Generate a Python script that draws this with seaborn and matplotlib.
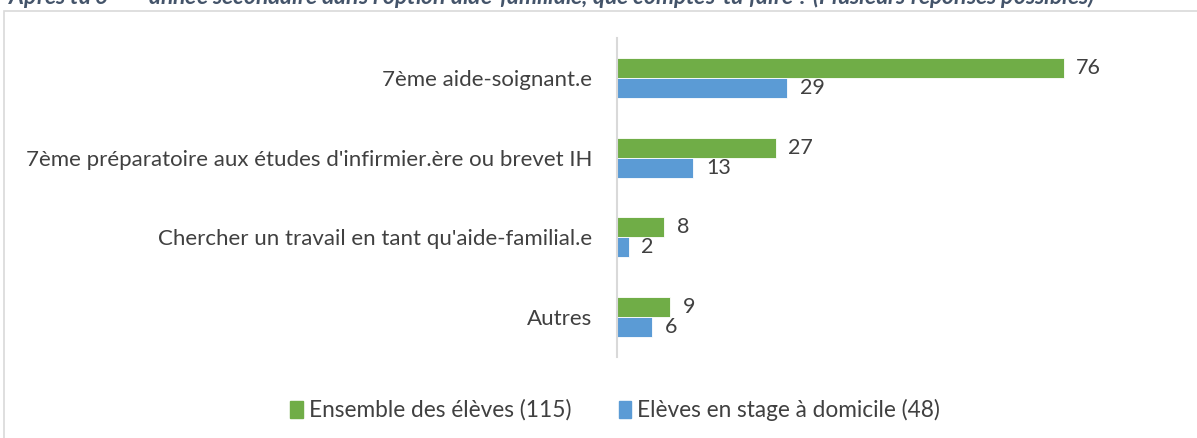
import pandas as pd
import matplotlib.pyplot as plt
import seaborn as sns
from matplotlib.patches import Rectangle

# Données
categories = [
    "7ème aide-soignant.e",
    "7ème préparatoire aux études d'infirmier.ère ou brevet IH",
    "Chercher un travail en tant qu'aide-familial.e",
    "Autres",
]
groupes = ["Ensemble des élèves (115)", "Elèves en stage à domicile (48)"]
ensemble = [76, 27, 8, 9]
stage = [29, 13, 2, 6]
couleurs = ["#70AD47", "#5B9BD5"]

titre = ("Après ta 6$^{ème}$ année secondaire dans l'option aide-familiale, "
         "que comptes-tu faire ? (Plusieurs réponses possibles)")

df = pd.DataFrame({
    "categorie": categories * 2,
    "groupe": [groupes[0]] * 4 + [groupes[1]] * 4,
    "valeur": ensemble + stage,
})

sns.set_theme(style="white")
plt.rcParams["font.family"] = ["Lato", "DejaVu Sans"]

fig = plt.figure(figsize=(11.97, 4.38), dpi=100)
ax = fig.add_axes([617 / 1197, 1 - 357 / 438, 470 / 1197, 319 / 438])

sns.barplot(data=df, x="valeur", y="categorie", hue="groupe",
            order=categories, hue_order=groupes, palette=couleurs,
            saturation=1, width=0.5, orient="h", ax=ax, legend=False,
            edgecolor="white", linewidth=0.6)

for cont in ax.containers:
    ax.bar_label(cont, padding=9, fontsize=15.5, color="#404040")

ax.set_xlim(0, 80)
ax.set_xlabel("")
ax.set_ylabel("")
ax.set_xticks([])
ax.tick_params(axis="y", length=0, pad=18, labelsize=16, labelcolor="#404040")
for s in ["top", "right", "bottom"]:
    ax.spines[s].set_visible(False)
ax.spines["left"].set_color("#D9D9D9")
ax.spines["left"].set_linewidth(1.5)

# légende
handles = [plt.Rectangle((0, 0), 1, 1, color=c) for c in couleurs]
fig.legend(handles, groupes, loc="center",
           bbox_to_anchor=(615 / 1197, 1 - 410 / 438),
           ncol=2, frameon=False, fontsize=16.3, labelcolor="#404040",
           handlelength=0.55, handleheight=0.8, handletextpad=0.25,
           columnspacing=2.1)

# cadre du graphique
fig.add_artist(Rectangle((4 / 1197, -0.1), 1.1, 1.1 - 11 / 438,
                         transform=fig.transFigure, fill=False,
                         edgecolor="#D9D9D9", linewidth=1.2))

# titre (coupé en haut, comme dans l'original)
fig.text(8 / 1197, 1 - 5 / 438, titre, ha="left", va="baseline",
         fontsize=16.5, fontstyle="italic", fontweight="bold", color="#44546A")

fig.savefig("out.png", dpi=100)
